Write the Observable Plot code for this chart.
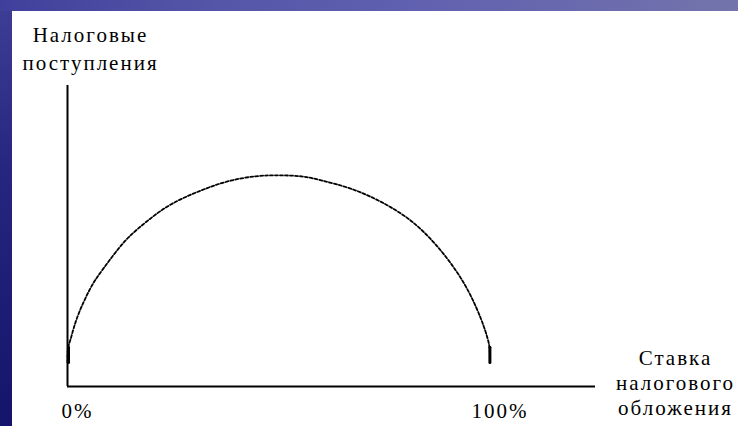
<!DOCTYPE html>
<html>
<head>
<meta charset="utf-8">
<script src="https://cdn.jsdelivr.net/npm/d3@7"></script>
<script src="https://cdn.jsdelivr.net/npm/@observablehq/plot@0.6"></script>
<style>
  html, body { margin: 0; padding: 0; }
  #frame {
    position: relative; width: 738px; height: 426px; overflow: hidden;
    background: linear-gradient(to bottom, #3e3e96 0%, #262680 40%, #14146a 100%);
  }
  #topstrip {
    position: absolute; left: 0; top: 0; width: 738px; height: 11px;
    background: linear-gradient(to right, #40409c 0%, #5656a8 30%, #6060b0 55%, #6a6aae 80%, #7474ac 100%);
  }
  #panel {
    position: absolute; left: 12px; top: 11px; right: 0; bottom: 0; background: #ffffff;
  }
  #chart { position: absolute; left: 0; top: 0; }
  #chart text { font-family: "Liberation Serif", "DejaVu Serif", serif; letter-spacing: 2px; }
</style>
</head>
<body>
<div id="frame">
  <div id="topstrip"></div>
  <div id="panel"></div>
  <div id="chart"></div>
</div>
<script>
// Tax rate (%) and tax revenue (arbitrary units, axis top = 100)
const taxRate = [0, 0, 0.7, 1.4, 2.6, 4.3, 6.1, 8.5, 11.3, 14.2, 18.9, 24.3, 31.4, 37.8, 44.9, 50, 55.6, 59.8, 66.9, 74.0, 81.1, 86.5, 91.3, 95.3, 98.3, 99.5, 100, 100];
const taxRevenue = [8, 13, 15.3, 19.3, 24.3, 29.6, 34.6, 39.2, 44.5, 49.5, 55.1, 60.8, 65.1, 68.4, 70.1, 70.2, 70.0, 68.6, 66.1, 61.8, 55.8, 48.5, 40.2, 31.2, 21.3, 15.9, 13, 8];

const tickValues = [0, 100];
const tickLabels = ["0%", "100%"];

const yTitle = "Налоговые\nпоступления";
const xTitle = "Ставка\nналогового\nобложения";

const curve = taxRate.map((r, i) => ({rate: r, revenue: taxRevenue[i]}));
const ticks = tickValues.map((v, i) => ({value: v, label: tickLabels[i]}));
const startStub = curve.slice(0, 2);
const endStub = curve.slice(-2);

const serif = "Liberation Serif";

const chart = Plot.plot({
  width: 738,
  height: 426,
  marginLeft: 67,
  marginRight: 143,
  marginTop: 85,
  marginBottom: 40,
  x: {domain: [0, 125], axis: null},
  y: {domain: [0, 100], axis: null},
  style: {
    background: "transparent",
    overflow: "visible",
    fontSize: "21px",
    color: "black"
  },
  marks: [
    Plot.ruleX([0], {y1: 0, y2: 100, stroke: "black", strokeWidth: 2}),
    Plot.ruleY([0], {x1: 0, x2: 125, stroke: "black", strokeWidth: 2}),
    Plot.line(curve, {
      x: "rate", y: "revenue", curve: "basis",
      stroke: "black", strokeWidth: 1.8, strokeDasharray: "3,2"
    }),
    Plot.line(startStub, {x: "rate", y: "revenue", stroke: "black", strokeWidth: 3, dx: 1}),
    Plot.line(endStub, {x: "rate", y: "revenue", stroke: "black", strokeWidth: 3}),
    Plot.text(ticks, {x: "value", y: 0, text: "label", dx: 10, dy: 25, fill: "black", fontSize: 21, fontFamily: serif}),
    Plot.text([yTitle], {
      frameAnchor: "top-left", text: d => d, dx: 23, dy: -63,
      lineAnchor: "top", lineHeight: 1.333, textAnchor: "middle", fill: "black", fontSize: 21, fontFamily: serif
    }),
    Plot.text([xTitle], {
      frameAnchor: "bottom-right", text: d => d, dx: 80, dy: -39,
      lineAnchor: "top", lineHeight: 1.19, textAnchor: "middle", fill: "black", fontSize: 21, fontFamily: serif
    })
  ]
});
document.getElementById("chart").appendChild(chart);
</script>
</body>
</html>
